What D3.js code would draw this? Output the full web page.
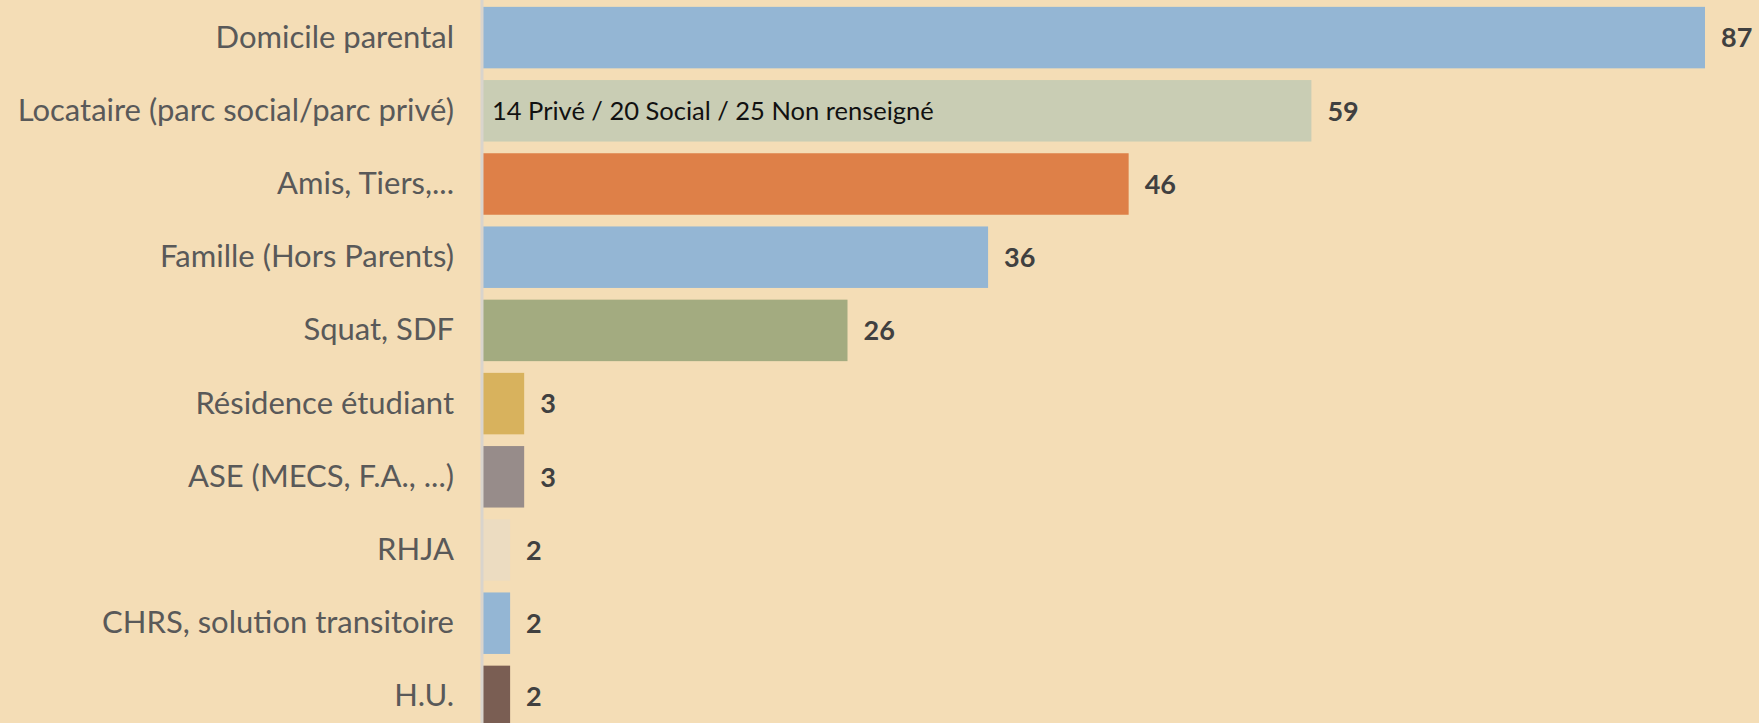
<!DOCTYPE html>
<html><head><meta charset="utf-8">
<script src="https://cdn.jsdelivr.net/npm/d3@7"></script>
<style>
html,body{margin:0;padding:0;background:#f4ddb6;}
svg{display:block;}
</style></head>
<body>
<svg id="c" width="1759" height="723"></svg>
<script>
const categories = ["Domicile parental","Locataire (parc social/parc privé)","Amis, Tiers,...","Famille (Hors Parents)","Squat, SDF ","Résidence étudiant","ASE (MECS, F.A., ...)","RHJA ","CHRS, solution transitoire","H.U."];
const values = [87,59,46,36,26,3,3,2,2,2];
const colors = ["#94b6d4","#c9cdb4","#de8048","#94b6d4","#a3ab80","#d8b25d","#978c8a","#ecdcc1","#94b6d4","#7a5e53"];
const innerNotes = ["","14 Privé / 20 Social / 25 Non renseigné","","","","","","","",""];

const W = 1759, H = 723;
const x0 = 482;
const svg = d3.select("#c");
svg.append("rect").attr("width",W).attr("height",H).attr("fill","#f4ddb6");

const x = d3.scaleLinear().domain([0,87]).range([x0, 1705]);
const y = d3.scaleBand().domain(categories).range([1,733]).paddingInner(0.16).paddingOuter(0.08);

const g = svg.append("g");
g.selectAll("rect.bar").data(categories).join("rect")
  .attr("class","bar")
  .attr("x", x(0))
  .attr("y", d=>y(d))
  .attr("width", (d,i)=>x(values[i])-x(0))
  .attr("height", y.bandwidth())
  .attr("fill",(d,i)=>colors[i]);

const yAxis = d3.axisLeft(y).tickSize(0).tickPadding(28);
const ax = svg.append("g").attr("transform",`translate(${x0},0)`).call(yAxis);
ax.select(".domain").attr("stroke","#d9d4cc").attr("stroke-width",3).attr("d",`M0,0V${H}`);
ax.selectAll(".tick text")
  .attr("fill","#595959")
  .style("font-family","Lato, 'Noto Sans', sans-serif")
  .style("font-size","31px");

g.selectAll("text.val").data(categories).join("text")
  .attr("class","val")
  .attr("x",(d,i)=>x(values[i])+16)
  .attr("y",d=>y(d)+y.bandwidth()/2)
  .attr("dy","0.36em")
  .attr("fill","#404040")
  .style("font-family","Lato, 'Noto Sans', sans-serif")
  .style("font-weight","bold")
  .style("font-size","27px")
  .text((d,i)=>values[i]);

g.selectAll("text.note").data(categories.filter((d,i)=>innerNotes[i])).join("text")
  .attr("class","note")
  .attr("x", x(0)+10)
  .attr("y", d=>y(d)+y.bandwidth()/2)
  .attr("dy","0.36em")
  .attr("fill","#111")
  .style("font-family","Lato, 'Noto Sans', sans-serif")
  .style("font-size","25.5px")
  .text(d=>innerNotes[categories.indexOf(d)]);
</script>
</body></html>
